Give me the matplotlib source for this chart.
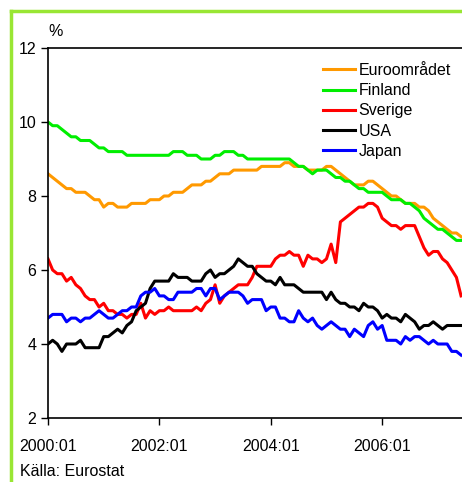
import numpy as np
import matplotlib
matplotlib.use("Agg")
import matplotlib.pyplot as plt
from matplotlib.lines import Line2D

plt.rcParams['font.family'] = ['Liberation Sans', 'DejaVu Sans']

# monthly unemployment, 2000:01 .. 2007:06
euro = [8.6, 8.5, 8.4, 8.3, 8.2, 8.2, 8.1, 8.1, 8.1, 8.0,
        7.9, 7.9, 7.7, 7.8, 7.8, 7.7, 7.7, 7.7, 7.8, 7.8,
        7.8, 7.8, 7.9, 7.9, 7.9, 8.0, 8.0, 8.1, 8.1, 8.1,
        8.2, 8.3, 8.3, 8.3, 8.4, 8.4, 8.5, 8.6, 8.6, 8.6,
        8.7, 8.7, 8.7, 8.7, 8.7, 8.7, 8.8, 8.8, 8.8, 8.8,
        8.8, 8.9, 8.9, 8.8, 8.8, 8.8, 8.7, 8.7, 8.7, 8.7,
        8.8, 8.8, 8.7, 8.6, 8.5, 8.4, 8.3, 8.3, 8.3, 8.4,
        8.4, 8.3, 8.2, 8.1, 8.0, 8.0, 7.9, 7.8, 7.8, 7.8,
        7.7, 7.7, 7.6, 7.4, 7.3, 7.2, 7.1, 7.0, 7.0, 6.9]
finland = [10.0, 9.9, 9.9, 9.8, 9.7, 9.6, 9.6, 9.5, 9.5, 9.5,
           9.4, 9.3, 9.3, 9.2, 9.2, 9.2, 9.2, 9.1, 9.1, 9.1,
           9.1, 9.1, 9.1, 9.1, 9.1, 9.1, 9.1, 9.2, 9.2, 9.2,
           9.1, 9.1, 9.1, 9.0, 9.0, 9.0, 9.1, 9.1, 9.2, 9.2,
           9.2, 9.1, 9.1, 9.0, 9.0, 9.0, 9.0, 9.0, 9.0, 9.0,
           9.0, 9.0, 9.0, 8.9, 8.8, 8.8, 8.7, 8.6, 8.7, 8.7,
           8.7, 8.6, 8.5, 8.5, 8.4, 8.4, 8.3, 8.2, 8.2, 8.1,
           8.1, 8.1, 8.1, 8.0, 7.9, 7.9, 7.9, 7.8, 7.8, 7.7,
           7.6, 7.4, 7.3, 7.2, 7.1, 7.1, 7.0, 6.9, 6.8, 6.8]
sverige = [6.3, 6.0, 5.9, 5.9, 5.7, 5.8, 5.6, 5.5, 5.3, 5.2,
           5.2, 5.0, 5.1, 4.9, 4.9, 4.8, 4.8, 4.7, 4.8, 4.8,
           5.1, 4.7, 4.9, 4.8, 4.9, 4.9, 5.0, 4.9, 4.9, 4.9,
           4.9, 4.9, 5.0, 4.9, 5.1, 5.2, 5.6, 5.1, 5.3, 5.4,
           5.5, 5.6, 5.6, 5.6, 5.8, 6.1, 6.1, 6.1, 6.1, 6.3,
           6.4, 6.4, 6.5, 6.4, 6.4, 6.1, 6.4, 6.3, 6.3, 6.2,
           6.3, 6.7, 6.2, 7.3, 7.4, 7.5, 7.6, 7.7, 7.7, 7.8,
           7.8, 7.7, 7.4, 7.3, 7.2, 7.2, 7.1, 7.2, 7.2, 7.2,
           6.9, 6.6, 6.4, 6.5, 6.5, 6.3, 6.2, 6.0, 5.8, 5.3]
usa = [4.0, 4.1, 4.0, 3.8, 4.0, 4.0, 4.0, 4.1, 3.9, 3.9,
       3.9, 3.9, 4.2, 4.2, 4.3, 4.4, 4.3, 4.5, 4.6, 4.9,
       5.0, 5.1, 5.5, 5.7, 5.7, 5.7, 5.7, 5.9, 5.8, 5.8,
       5.8, 5.7, 5.7, 5.7, 5.9, 6.0, 5.8, 5.9, 5.9, 6.0,
       6.1, 6.3, 6.2, 6.1, 6.1, 5.9, 5.8, 5.7, 5.7, 5.6,
       5.8, 5.6, 5.6, 5.6, 5.5, 5.4, 5.4, 5.4, 5.4, 5.4,
       5.2, 5.4, 5.2, 5.1, 5.1, 5.0, 5.0, 4.9, 5.1, 5.0,
       5.0, 4.9, 4.7, 4.8, 4.7, 4.7, 4.6, 4.8, 4.7, 4.6,
       4.4, 4.5, 4.5, 4.6, 4.5, 4.4, 4.5, 4.5, 4.5, 4.5]
japan = [4.7, 4.8, 4.8, 4.8, 4.6, 4.7, 4.7, 4.6, 4.7, 4.7,
         4.8, 4.9, 4.8, 4.7, 4.7, 4.8, 4.9, 4.9, 5.0, 5.0,
         5.3, 5.4, 5.4, 5.5, 5.3, 5.3, 5.2, 5.2, 5.4, 5.4,
         5.4, 5.4, 5.5, 5.5, 5.3, 5.5, 5.5, 5.2, 5.3, 5.4,
         5.4, 5.4, 5.3, 5.1, 5.2, 5.2, 5.2, 4.9, 5.0, 5.0,
         4.7, 4.7, 4.6, 4.6, 4.9, 4.7, 4.6, 4.7, 4.5, 4.4,
         4.5, 4.6, 4.5, 4.4, 4.4, 4.2, 4.4, 4.3, 4.2, 4.5,
         4.6, 4.4, 4.5, 4.1, 4.1, 4.1, 4.0, 4.2, 4.1, 4.2,
         4.2, 4.1, 4.0, 4.1, 4.0, 4.0, 4.0, 3.8, 3.8, 3.7]

series = [("Euroområdet", euro, "#ff9900"),
          ("Finland", finland, "#00ee00"),
          ("Sverige", sverige, "#ff0000"),
          ("USA", usa, "#000000"),
          ("Japan", japan, "#0000ff")]
xtick_labels = ["2000:01", "2002:01", "2004:01", "2006:01"]

fig = plt.figure(figsize=(4.62, 4.82), dpi=100)
ax = fig.add_axes([48/462, 64/482, 1 - 48/462, 370/482])

months = np.arange(len(euro))
for name, vals, col in series:
    ax.plot(months, vals, color=col, linewidth=2.2, label=name)

ax.set_ylim(2, 12)
ax.set_xlim(0, 89.2)
ax.set_yticks([2, 4, 6, 8, 10, 12])
ax.set_xticks([0, 24, 48, 72])
ax.set_xticklabels(xtick_labels)
ax.tick_params(axis='both', direction='out', length=5, width=1, labelsize=11.5, colors='black')
ax.tick_params(axis='x', pad=10)
ax.spines['right'].set_visible(False)
for s in ['left', 'top', 'bottom']:
    ax.spines[s].set_linewidth(1.2)

ax.legend(loc='upper right', bbox_to_anchor=(1.0, 0.99), frameon=False, fontsize=11.5,
          handlelength=2.0, handletextpad=0.2, labelspacing=0.33, borderaxespad=0.3)

fig.text(48/462, 1 - 32/482, "%", fontsize=11.5, ha='left', va='center')
fig.text(20/462, 1 - 472/482, "Källa: Eurostat", fontsize=11.5, ha='left', va='center')

# green frame (left and top edges)
fig.add_artist(Line2D([11/462, 11/462], [0, 1 - 11/482], color='#99e633', linewidth=2.5,
                      transform=fig.transFigure))
fig.add_artist(Line2D([11/462, 1], [1 - 11/482, 1 - 11/482], color='#99e633', linewidth=2.5,
                      transform=fig.transFigure))

fig.savefig("out.png", dpi=100)
